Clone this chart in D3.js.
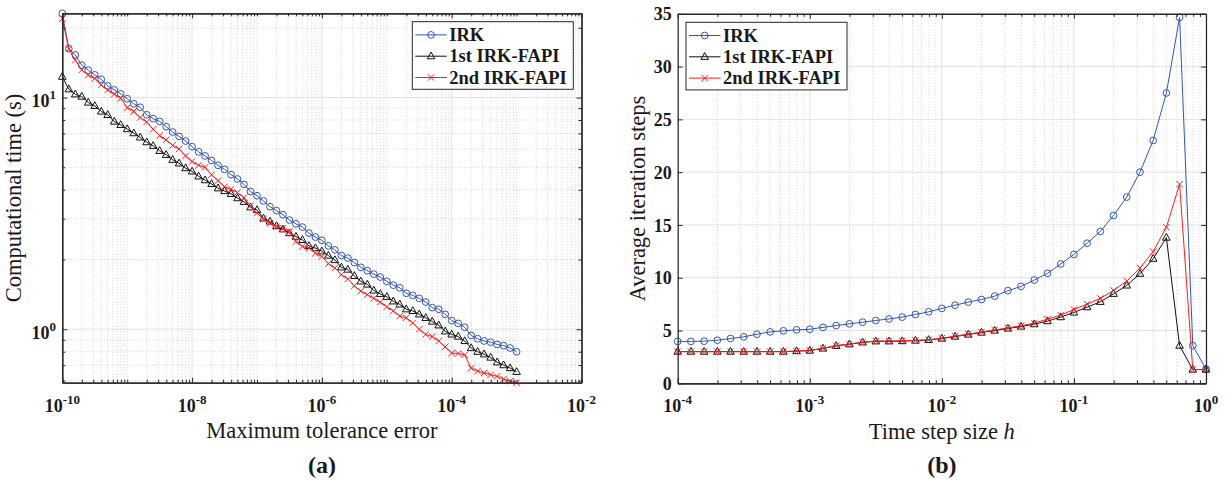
<!DOCTYPE html>
<html>
<head>
<meta charset="utf-8">
<script src="https://cdn.jsdelivr.net/npm/d3@7"></script>
<style>
  body { margin: 0; background: #fff; }
  svg { display: block; }
  text { font-family: "Liberation Serif", "Times New Roman", serif; fill: #1a1a1a; }
</style>
</head>
<body>
<svg id="fig" width="1228" height="483"></svg>
<script>
// ---- Panel (a): computational time vs. tolerance (71 tolerances, 1e-10 .. 1e-3) ----
const tolerance = d3.range(0, 71).map(k => Math.pow(10, -10 + k / 10));
const timeIRK = [
  23.1, 16.27, 15.28, 13.8, 13.13, 12.53, 11.99, 11.23, 10.79, 10.38,
  9.88, 9.40, 9.08, 8.43, 8.11, 7.89, 7.49, 7.10, 6.80, 6.49,
  6.14, 5.83, 5.60, 5.35, 5.10, 4.90, 4.65, 4.45, 4.22, 3.93,
  3.77, 3.58, 3.38, 3.25, 3.12, 2.96, 2.85, 2.76, 2.60, 2.50,
  2.42, 2.29, 2.20, 2.08, 2.03, 1.94, 1.85, 1.79, 1.73, 1.68,
  1.61, 1.55, 1.51, 1.43, 1.40, 1.36, 1.31, 1.24, 1.22, 1.16,
  1.09, 1.06, 1.02, 0.94, 0.91, 0.89, 0.88, 0.86, 0.85, 0.83,
  0.80
];
const timeFAPI1 = [
  12.3, 10.86, 10.33, 10.1, 9.52, 9.2, 8.71, 8.42, 7.88, 7.62,
  7.31, 7.02, 6.73, 6.42, 6.19, 5.89, 5.66, 5.39, 5.2, 4.96,
  4.8, 4.57, 4.4, 4.24, 4.06, 3.95, 3.84, 3.68, 3.55, 3.36,
  3.27, 3.01, 2.92, 2.79, 2.70, 2.60, 2.51, 2.43, 2.29, 2.24,
  2.17, 2.08, 1.99, 1.85, 1.81, 1.70, 1.61, 1.56, 1.47, 1.42,
  1.38, 1.32, 1.28, 1.22, 1.20, 1.16, 1.12, 1.08, 1.04, 0.98,
  0.95, 0.93, 0.89, 0.83, 0.80, 0.78, 0.755, 0.72, 0.70, 0.68,
  0.655
];
const timeFAPI2 = [
  21.9, 16.2, 14.5, 13.15, 12.5, 12.1, 11.33, 10.78, 10.33, 9.93,
  9.05, 8.72, 8.2, 7.85, 7.3, 6.85, 6.57, 6.22, 6.0, 5.6,
  5.3, 5.1, 5.0, 4.64, 4.38, 4.12, 4.02, 3.89, 3.7, 3.41,
  3.17, 2.99, 2.87, 2.77, 2.73, 2.64, 2.39, 2.28, 2.24, 2.13,
  2.06, 1.92, 1.84, 1.72, 1.65, 1.54, 1.46, 1.41, 1.36, 1.31,
  1.25, 1.20, 1.14, 1.12, 1.065, 1.0, 0.95, 0.93, 0.89, 0.84,
  0.79, 0.786, 0.775, 0.68, 0.66, 0.648, 0.636, 0.626, 0.61, 0.597,
  0.588
];
const tolTickExps = [-10, -8, -6, -4, -2];
const timeTickExps = [0, 1];

// ---- Panel (b): average iteration steps vs. step size (41 step sizes, 1e-4 .. 1) ----
const stepSize = d3.range(0, 41).map(k => Math.pow(10, -4 + k / 10));
const iterIRK = [
  3.97, 3.97, 3.99, 4.08, 4.24, 4.4, 4.65, 4.87, 4.97, 5.06,
  5.12, 5.3, 5.47, 5.63, 5.79, 5.95, 6.1, 6.27, 6.52, 6.77,
  7.09, 7.40, 7.69, 7.94, 8.26, 8.77, 9.18, 9.78, 10.42, 11.3,
  12.21, 13.27, 14.38, 15.9, 17.64, 20.0, 23.0, 27.5, 34.66, 3.57,
  1.35
];
const iterFAPI1 = [
  3.0, 3.0, 3.0, 3.0, 3.0, 3.0, 3.0, 3.0, 3.0, 3.05,
  3.1, 3.3, 3.55, 3.7, 3.88, 3.98, 3.98, 4.0, 4.05, 4.11,
  4.24, 4.43, 4.62, 4.81, 5.0, 5.19, 5.38, 5.6, 5.89, 6.27,
  6.71, 7.21, 7.72, 8.48, 9.27, 10.38, 11.8, 13.8, 3.57, 1.3,
  1.3
];
const iterFAPI2 = [
  3.0, 3.0, 3.0, 3.0, 3.0, 3.0, 3.0, 3.0, 3.0, 3.05,
  3.12, 3.32, 3.57, 3.72, 3.9, 4.0, 4.0, 4.02, 4.07, 4.13,
  4.27, 4.47, 4.66, 4.86, 5.05, 5.25, 5.45, 5.7, 6.08, 6.46,
  6.99, 7.5, 8.04, 8.8, 9.68, 10.92, 12.47, 14.78, 18.86, 1.3,
  1.3
];
const stepTickExps = [-4, -3, -2, -1, 0];
const iterTicks = [0, 5, 10, 15, 20, 25, 30, 35];

const seriesNames = ["IRK", "1st IRK-FAPI", "2nd IRK-FAPI"];
const seriesColors = ["#3355b5", "#111111", "#ff1a1a"];
const seriesMarkers = ["circle", "triangle", "cross"];

// ---- drawing helpers ----
const svg = d3.select("#fig");
const AXIS = "#262626";

function logTicks(domain) {
  const [a, b] = domain, out = [];
  for (let e = Math.floor(Math.log10(a)); e <= Math.ceil(Math.log10(b)); e++) {
    for (let m = 1; m < 10; m++) {
      const v = m * Math.pow(10, e);
      if (v >= a * 0.9999 && v <= b * 1.0001) out.push(v);
    }
  }
  return out;
}

function markerPath(kind) {
  if (kind === "triangle") return "M0,-4.2L3.8,2.6L-3.8,2.6Z";
  if (kind === "cross") return "M-3.2,-3.2L3.2,3.2M-3.2,3.2L3.2,-3.2";
  return d3.symbol(d3.symbolCircle, 36)();
}

function supText(g, x, y, exp, anchor, size, supSize) {
  const t = g.append("text").attr("x", x).attr("y", y)
    .attr("text-anchor", anchor).attr("font-weight", "bold").attr("font-size", size);
  t.append("tspan").text("10");
  t.append("tspan").attr("dy", -8).attr("font-size", supSize).text(String(exp));
  return t;
}

function drawPanel(opt) {
  const { left, top, right, bottom } = opt.box;
  const w = right - left, h = bottom - top;
  const g = svg.append("g").attr("transform", `translate(${left},${top})`);
  const x = opt.x.range([0, w]);
  const y = opt.y.range([h, 0]);

  // grid: minor dotted, then major solid
  const grid = g.append("g");
  grid.selectAll("line.xminor").data(opt.xMinor).join("line")
    .attr("x1", d => x(d)).attr("x2", d => x(d)).attr("y1", 0).attr("y2", h)
    .attr("stroke", "#c4c4c4").attr("stroke-width", 0.8).attr("stroke-dasharray", "1,2");
  grid.selectAll("line.yminor").data(opt.yMinor).join("line")
    .attr("y1", d => y(d)).attr("y2", d => y(d)).attr("x1", 0).attr("x2", w)
    .attr("stroke", "#c4c4c4").attr("stroke-width", 0.8).attr("stroke-dasharray", "1,2");
  grid.selectAll("line.xmajor").data(opt.xMajor).join("line")
    .attr("x1", d => x(d)).attr("x2", d => x(d)).attr("y1", 0).attr("y2", h)
    .attr("stroke", "#e2e2e2").attr("stroke-width", 1);
  grid.selectAll("line.ymajor").data(opt.yMajor).join("line")
    .attr("y1", d => y(d)).attr("y2", d => y(d)).attr("x1", 0).attr("x2", w)
    .attr("stroke", "#e2e2e2").attr("stroke-width", 1);

  // series
  opt.series.forEach((vals, i) => {
    const pts = vals.map((v, k) => [opt.xs[k], v]);
    g.append("path").datum(pts)
      .attr("fill", "none").attr("stroke", seriesColors[i]).attr("stroke-width", 1)
      .attr("d", d3.line().x(d => x(d[0])).y(d => y(d[1])));
    g.append("g").selectAll("path").data(pts).join("path")
      .attr("transform", d => `translate(${x(d[0])},${y(d[1])})`)
      .attr("d", markerPath(seriesMarkers[i]))
      .attr("fill", "none").attr("stroke", seriesColors[i]).attr("stroke-width", 1);
  });

  // axes with inward ticks on all four sides
  const styleAxis = a => {
    a.select(".domain").attr("stroke", AXIS).attr("stroke-width", 1.2);
    a.selectAll(".tick line").attr("stroke", AXIS).attr("stroke-width", 1);
  };
  const yAllMinor = opt.yMinor;
  [[d3.axisBottom, h], [d3.axisTop, 0]].forEach(([fn, ty]) => {
    g.append("g").attr("transform", `translate(0,${ty})`)
      .call(fn(x).tickValues(opt.xMinor).tickSize(-3).tickSizeOuter(0).tickFormat(""))
      .call(styleAxis);
    g.append("g").attr("transform", `translate(0,${ty})`)
      .call(fn(x).tickValues(opt.xMajor).tickSize(-5).tickSizeOuter(0).tickFormat(""))
      .call(styleAxis);
  });
  [[d3.axisLeft, 0], [d3.axisRight, w]].forEach(([fn, tx]) => {
    if (yAllMinor.length) {
      g.append("g").attr("transform", `translate(${tx},0)`)
        .call(fn(y).tickValues(yAllMinor).tickSize(-3).tickSizeOuter(0).tickFormat(""))
        .call(styleAxis);
    }
    g.append("g").attr("transform", `translate(${tx},0)`)
      .call(fn(y).tickValues(opt.yMajor).tickSize(-5).tickSizeOuter(0).tickFormat(""))
      .call(styleAxis);
  });

  // tick labels
  opt.xLabels.forEach(e => supText(g, x(Math.pow(10, e)), h + 29, e, "middle", 18, 13));
  opt.yLabels(g, y, w, h);

  // axis titles
  const xt = g.append("text").attr("x", w / 2).attr("y", h + 55.5)
    .attr("text-anchor", "middle").attr("font-size", 22.5);
  opt.xTitle(xt);
  g.append("text")
    .attr("transform", `translate(${opt.yTitleX - left},${h / 2}) rotate(-90)`)
    .attr("text-anchor", "middle").attr("font-size", 22.5).text(opt.yTitle);

  // panel tag
  g.append("text").attr("x", w / 2).attr("y", 473.5 - top)
    .attr("text-anchor", "middle").attr("font-size", 24).attr("font-weight", "bold")
    .text(opt.tag);

  // legend
  const lg = g.append("g").attr("transform", `translate(${opt.legend.x - left},${opt.legend.y - top})`);
  lg.append("rect").attr("width", 161).attr("height", 67.6)
    .attr("fill", "#fff").attr("stroke", AXIS).attr("stroke-width", 1);
  seriesNames.forEach((name, i) => {
    const cy = 13.2 + i * 21.3;
    lg.append("line").attr("x1", 3).attr("x2", 34.5).attr("y1", cy).attr("y2", cy)
      .attr("stroke", seriesColors[i]).attr("stroke-width", 1);
    lg.append("path").attr("transform", `translate(18.7,${cy})`)
      .attr("d", markerPath(seriesMarkers[i]))
      .attr("fill", "none").attr("stroke", seriesColors[i]).attr("stroke-width", 1);
    lg.append("text").attr("x", 37).attr("y", cy + 6.3)
      .attr("font-size", 18.5).attr("font-weight", "bold").text(name);
  });
}

// ---- panel (a) ----
const tolDomain = [1e-10, 1e-2];
const timeDomain = d3.extent(timeIRK.concat(timeFAPI1, timeFAPI2));
const tolMajor = tolTickExps.map(e => Math.pow(10, e));
const timeMajor = timeTickExps.map(e => Math.pow(10, e));
drawPanel({
  box: { left: 62.3, top: 13.3, right: 581.5, bottom: 382.7 },
  x: d3.scaleLog().domain(tolDomain),
  y: d3.scaleLog().domain(timeDomain),
  xs: tolerance,
  series: [timeIRK, timeFAPI1, timeFAPI2],
  xMajor: tolMajor,
  xMinor: logTicks(tolDomain).filter(v => !tolMajor.some(m => Math.abs(m - v) / m < 1e-6)),
  yMajor: timeMajor,
  yMinor: logTicks(timeDomain).filter(v => !timeMajor.some(m => Math.abs(m - v) / m < 1e-6)),
  xLabels: tolTickExps,
  yLabels: (g, y) => timeTickExps.forEach(e => supText(g, -6.3, y(Math.pow(10, e)) + 9.5, e, "end", 18, 13)),
  xTitle: t => t.text("Maximum tolerance error"),
  yTitle: "Computational time (s)",
  yTitleX: 21,
  tag: "(a)",
  legend: { x: 412.3, y: 21.7 }
});

// ---- panel (b) ----
const stepDomain = [1e-4, 1];
const stepMajor = stepTickExps.map(e => Math.pow(10, e));
drawPanel({
  box: { left: 677.7, top: 13.8, right: 1206, bottom: 383.3 },
  x: d3.scaleLog().domain(stepDomain),
  y: d3.scaleLinear().domain([0, 35]),
  xs: stepSize,
  series: [iterIRK, iterFAPI1, iterFAPI2],
  xMajor: stepMajor,
  xMinor: logTicks(stepDomain).filter(v => !stepMajor.some(m => Math.abs(m - v) / m < 1e-6)),
  yMajor: iterTicks,
  yMinor: [],
  xLabels: stepTickExps,
  yLabels: (g, y) => iterTicks.forEach(v => g.append("text").attr("x", -6).attr("y", y(v) + 6.6)
    .attr("text-anchor", "end").attr("font-size", 18).attr("font-weight", "bold").text(v)),
  xTitle: t => { t.append("tspan").text("Time step size "); t.append("tspan").attr("font-style", "italic").text("h"); },
  yTitle: "Average iteration steps",
  yTitleX: 645,
  tag: "(b)",
  legend: { x: 686, y: 22.3 }
});
</script>
</body>
</html>
